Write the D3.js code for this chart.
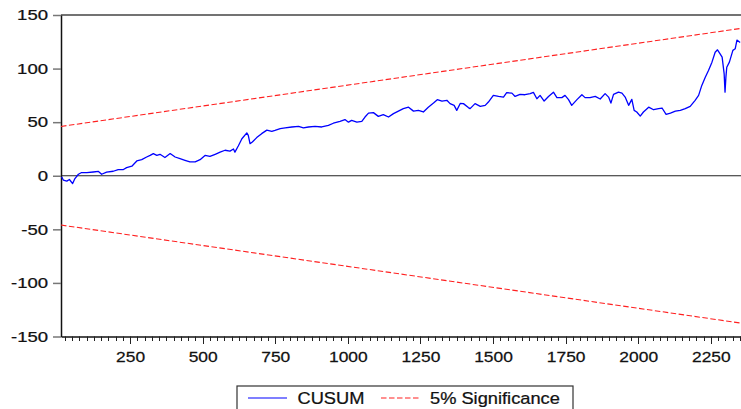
<!DOCTYPE html>
<html>
<head>
<meta charset="utf-8">
<script src="https://cdn.jsdelivr.net/npm/d3@7"></script>
<style>
  html, body { margin: 0; padding: 0; background: #fff; }
  svg { display: block; font-family: 'Liberation Sans', Arial, sans-serif; }
  svg text { stroke: #111; stroke-width: 0.25; }
</style>
</head>
<body>
<svg id="chart" width="741" height="409"></svg>
<script>
const obs = [14, 20, 32, 41, 52, 60, 72, 83, 101, 123, 141, 152, 169, 192, 209, 227, 238, 256, 273, 290,
  307, 319, 330, 342, 353, 370, 388, 405, 422, 439, 456, 474, 491, 508, 525, 543, 560, 577, 594, 606,
  611, 623, 635, 652, 657, 663, 671, 686, 703, 721, 738, 749, 767, 784, 807, 830, 847, 864, 887, 910,
  933, 950, 973, 990, 1002, 1013, 1031, 1048, 1059, 1071, 1088, 1105, 1122, 1140, 1157, 1174, 1191, 1209, 1226, 1243,
  1260, 1277, 1295, 1308, 1324, 1341, 1352, 1366, 1375, 1387, 1398, 1415, 1421, 1438, 1456, 1473, 1484, 1501, 1519, 1536,
  1547, 1565, 1576, 1593, 1610, 1628, 1639, 1651, 1662, 1676, 1691, 1708, 1720, 1737, 1748, 1760, 1771, 1789, 1806, 1817,
  1834, 1852, 1869, 1886, 1898, 1906, 1915, 1932, 1944, 1955, 1967, 1978, 1986, 1995, 2007, 2018, 2036, 2053, 2070, 2082,
  2096, 2111, 2128, 2145, 2162, 2179, 2196, 2208, 2219, 2231, 2242, 2254, 2265, 2273, 2282, 2289, 2296, 2299, 2302, 2305, 2314, 2326,
  2334, 2340, 2351]
const cusum = [-1, -4, -5, -3.5, -7.3, -2.6, 1.4, 3, 3, 3.5, 4, 1.4, 3.3, 4.2, 5.8, 5.8, 7.6, 8.9, 13.8, 15,
  17.5, 19, 20.7, 19, 20, 17, 20.7, 17.5, 16, 14.4, 12.9, 12.9, 15, 19, 18, 20, 22, 23.8, 23, 25,
  22, 28, 34.5, 40, 37.7, 30, 31.5, 35.6, 39.3, 42.6, 41.5, 42.4, 44, 44.6, 45.5, 46, 44.6, 45.5, 46, 45.5,
  47, 49, 50.8, 52.4, 50, 51.7, 50, 50.8, 54.8, 58.5, 58.9, 55.4, 57, 54.8, 58, 60.3, 62.6, 64, 60.3, 61,
  59.5, 64, 67.8, 71, 69.7, 70.4, 67.3, 65.7, 61, 67.4, 67.3, 63.6, 62.6, 67.3, 64.8, 65.7, 68.8, 75, 74, 73.4,
  77.5, 77.1, 74, 75.9, 75.6, 76.6, 77.8, 71.9, 75, 69.7, 74, 78, 72.9, 72.9, 75, 71, 65.7, 71, 75.6, 72.9,
  72.9, 74, 71.6, 76.6, 73.4, 67.8, 75.9, 78, 77.1, 73.4, 65.7, 71.3, 61, 59.5, 55.7, 59.5, 64, 61.6, 62.6, 63.2,
  57.3, 58.5, 60.3, 61, 62.6, 64.8, 70.4, 75, 84.3, 92, 98.3, 106, 115.3, 117.5, 113.8, 110.7, 95, 78, 92, 101.3, 106, 117,
  118.5, 126.6, 124.4]

// 5% significance bounds (straight lines, end points)
const boundObs = [12, 2354]
const upperBound = [46, 137.5]
const lowerBound = [-46, -137.5]

const yTicks = [-150, -100, -50, 0, 50, 100, 150]
const xMajor = [250, 500, 750, 1000, 1250, 1500, 1750, 2000, 2250]
const legendLabels = ['CUSUM', '5% Significance']

const plotL = 61, plotR = 741, plotT = 15, plotB = 336.5

const svg = d3.select('#chart')

const x = d3.scaleLinear().domain([12, 2354]).range([plotL, plotR])
const y = d3.scaleLinear().domain([-150, 150]).range([plotB, plotT])

// frame: top border
svg.append('line')
  .attr('x1', plotL).attr('x2', plotR)
  .attr('y1', plotT).attr('y2', plotT)
  .attr('stroke', '#444').attr('stroke-width', 1.5)

// zero line
svg.append('line')
  .attr('x1', plotL).attr('x2', plotR)
  .attr('y1', y(0)).attr('y2', y(0))
  .attr('stroke', '#222').attr('stroke-width', 1)

// y axis (plain hyphen for negatives, as in the original)
const yAxis = svg.append('g')
  .attr('transform', `translate(${plotL},0)`)
  .call(d3.axisLeft(y).tickValues(yTicks).tickSize(8).tickSizeOuter(0).tickFormat(d => String(d)))
yAxis.select('.domain').attr('stroke', '#111').attr('stroke-width', 1.5)
yAxis.selectAll('.tick line').attr('stroke', '#777').attr('stroke-width', 1.5)
yAxis.selectAll('.tick text')
  .attr('x', -10.3)
  .attr('transform', 'scale(1.26,1)')
  .attr('font-size', 14.7)
  .attr('fill', '#111')

// x axis: labels every 250, tick marks drawn below
const xAxis = svg.append('g')
  .attr('transform', `translate(0,${plotB})`)
  .call(d3.axisBottom(x).tickValues(xMajor).tickSizeOuter(0).tickSize(0).tickFormat(d => String(d)))
xAxis.select('.domain').attr('stroke', '#111').attr('stroke-width', 1.5)
xAxis.selectAll('.tick text')
  .attr('y', 14.5)
  .attr('transform', 'scale(1.13,1)')
  .attr('x', 0)
  .attr('font-size', 15.4)
  .attr('fill', '#111')

// minor ticks every 25, longer at the labelled ones
const minor = d3.range(25, 2354, 25)
svg.append('g')
  .selectAll('line')
  .data(minor)
  .join('line')
  .attr('x1', d => Math.round(x(d)) + 0.5)
  .attr('x2', d => Math.round(x(d)) + 0.5)
  .attr('y1', plotB)
  .attr('y2', d => plotB + (xMajor.includes(d) ? 7.5 : 4.5))
  .attr('stroke', '#222')
  .attr('stroke-width', 1)

// significance lines
const bounds = [upperBound, lowerBound]
svg.selectAll('.bound')
  .data(bounds)
  .join('path')
  .attr('class', 'bound')
  .attr('d', b => d3.line().x((_, i) => x(boundObs[i])).y(v => y(v))(b))
  .attr('fill', 'none')
  .attr('stroke', '#ff2020')
  .attr('stroke-width', 1.1)
  .attr('stroke-dasharray', '5.5,2.5')

// CUSUM line
svg.append('path')
  .datum(cusum)
  .attr('d', d3.line().x((_, i) => x(obs[i])).y(v => y(v)))
  .attr('fill', 'none')
  .attr('stroke', '#0000ff')
  .attr('stroke-width', 1.3)
  .attr('stroke-linejoin', 'round')

// legend
const lg = svg.append('g')
lg.append('rect')
  .attr('x', 237).attr('y', 386)
  .attr('width', 336).attr('height', 30)
  .attr('fill', '#fff').attr('stroke', '#333').attr('stroke-width', 1.2)
lg.append('line')
  .attr('x1', 248).attr('x2', 287).attr('y1', 398).attr('y2', 398)
  .attr('stroke', '#0000ff').attr('stroke-width', 1.2)
lg.append('line')
  .attr('x1', 381).attr('x2', 420).attr('y1', 398).attr('y2', 398)
  .attr('stroke', '#ff2020').attr('stroke-width', 1.1)
  .attr('stroke-dasharray', '5.5,2.5')
lg.selectAll('text')
  .data(legendLabels)
  .join('text')
  .attr('transform', (_, i) => `translate(${i ? 430 : 297.5},404) scale(1.12,1)`)
  .attr('font-size', 16.3)
  .attr('fill', '#111')
  .text(d => d)
</script>
</body>
</html>
